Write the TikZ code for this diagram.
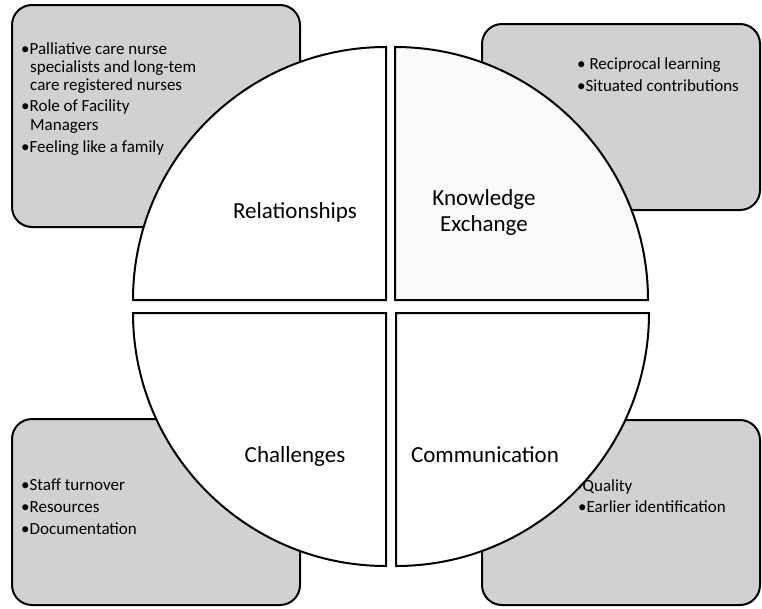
\documentclass[tikz,border=0pt]{standalone}
\usepackage{fontspec}
\setmainfont{Carlito}
\definecolor{boxgray}{RGB}{209,209,209}
\begin{document}
\begin{tikzpicture}[x=1pt,y=-1pt,
  box/.style={draw=black,line width=2pt,fill=boxgray,rounded corners=20pt},
  quad/.style={draw=black,line width=2pt,fill=white},
  item/.style={anchor=base west,inner sep=0pt,font=\fontsize{17}{20}\selectfont},
  qlabel/.style={align=center,font=\fontsize{23}{26}\selectfont}]
\useasboundingbox (0,0) rectangle (762,608);
% boxes
\draw[box] (12,5) rectangle (300,227);
\draw[box] (482,24) rectangle (760,210);
\draw[box] (12,419) rectangle (300,605);
\draw[box] (482,420) rectangle (760,605);
% box texts
\node[item] (tl1) at (21,54) {•Palliative care nurse};
\node[item] (tl2) at (30,72) {specialists and long-tem};
\node[item] (tl3) at (30,90) {care registered nurses};
\node[item] (tl4) at (21,111) {•Role of Facility};
\node[item] (tl5) at (30,130) {Managers};
\node[item] (tl6) at (21,152) {•Feeling like a family};
\node[item] (tr1) at (577,69) {• Reciprocal learning};
\node[item] (tr2) at (577,91) {•Situated contributions};
\node[item] (bl1) at (21,490) {•Staff turnover};
\node[item] (bl2) at (21,512) {•Resources};
\node[item] (bl3) at (21,534) {•Documentation};
\node[item] (br1) at (574,491) {•Quality};
\node[item] (br2) at (578,512) {•Earlier identification};
% quadrants
\draw[quad] (386,300) -- (133,300) arc[start angle=180,end angle=90,radius=253pt] -- cycle;
\draw[quad,fill=white!98!black] (395,300) -- (395,47) arc[start angle=90,end angle=0,radius=253pt] -- cycle;
\draw[quad] (386,313) -- (133,313) arc[start angle=180,end angle=270,radius=253pt] -- cycle;
\draw[quad] (396,313) -- (649,313) arc[start angle=0,end angle=-90,radius=253pt] -- cycle;
% labels
\node[qlabel] (rel) at (295,212) {Relationships};
\node[qlabel] (ke) at (484,212) {Knowledge\\Exchange};
\node[qlabel] (ch) at (295,456) {Challenges};
\node[qlabel] (co) at (485,455) {Communication};
\end{tikzpicture}
\end{document}
